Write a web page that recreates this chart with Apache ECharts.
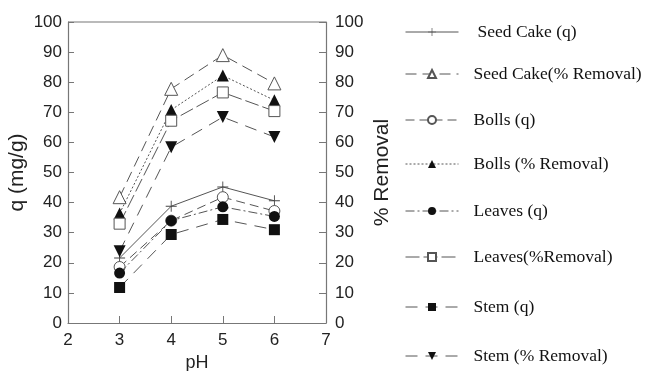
<!DOCTYPE html>
<html>
<head>
<meta charset="utf-8">
<script src="https://cdn.jsdelivr.net/npm/echarts@6/dist/echarts.min.js"></script>
<style>
  html, body { margin: 0; padding: 0; background: #fff; }
  #chart { width: 647px; height: 371px; }
</style>
</head>
<body>
<div id="chart"></div>
<script>
// pH values tested
const pH = [3, 4, 5, 6];

// Adsorption capacity q (mg/g)
const seedCakeQ = [21.6, 38.8, 45.2, 40.6];
const bollsQ    = [18.6, 34.0, 41.8, 37.2];
const leavesQ   = [16.6, 34.0, 38.6, 35.4];
const stemQ     = [11.8, 29.4, 34.4, 31.0];

// Percentage removal
const seedCakeRemoval = [41.8, 77.8, 89.0, 79.6];
const bollsRemoval    = [36.4, 70.8, 82.2, 74.0];
const leavesRemoval   = [33.0, 67.2, 76.6, 70.4];
const stemRemoval     = [23.8, 58.4, 68.4, 61.8];

// Series names as shown in the key
const names = [
  'Seed Cake (q)', 'Seed Cake(% Removal)', 'Bolls (q)', 'Bolls (% Removal)',
  'Leaves (q)', 'Leaves(%Removal)', 'Stem (q)', 'Stem (% Removal)'
];

const CROSS = 'path://M4.6,0H5.4V4.6H10V5.4H5.4V10H4.6V5.4H0V4.6H4.6Z';
const LINE = '#555';
const INK = '#111';

function pairs(ys) { return pH.map((x, i) => [x, ys[i]]); }

function makeSeries(name, ys, axis, symbol, size, dash, opts) {
  opts = opts || {};
  return {
    name: name,
    type: 'line',
    yAxisIndex: axis,
    data: pairs(ys),
    symbol: symbol,
    symbolSize: size,
    symbolRotate: opts.rotate || 0,
    z: opts.z || 2,
    itemStyle: {
      color: opts.hollow ? '#fff' : (opts.markColor || INK),
      borderColor: opts.hollow ? '#555' : (opts.markColor || INK),
      borderWidth: opts.hollow ? 1 : 0
    },
    lineStyle: { color: LINE, width: 1, type: dash },
    emphasis: { disabled: true },
    animation: false
  };
}

const series = [
  makeSeries(names[0], seedCakeQ, 0, CROSS, 11, 'solid', { markColor: '#444' }),
  makeSeries(names[1], seedCakeRemoval, 1, 'triangle', 13, [11, 6], { hollow: true }),
  makeSeries(names[2], bollsQ, 0, 'circle', 11, [9, 5], { hollow: true }),
  makeSeries(names[3], bollsRemoval, 1, 'triangle', 12, [2, 2]),
  makeSeries(names[4], leavesQ, 0, 'circle', 11, [9, 3, 2, 3], { z: 3 }),
  makeSeries(names[5], leavesRemoval, 1, 'rect', 11, [14, 4], { hollow: true }),
  makeSeries(names[6], stemQ, 0, 'rect', 11, [12, 8]),
  makeSeries(names[7], stemRemoval, 1, 'triangle', 12, [12, 8], { rotate: 180 })
];

// Key entries placed one by one down the right side
const legendTops = [18, 60, 106, 150, 197, 243, 293, 342];
const legends = names.map((n, i) => ({
  data: [n],
  left: 400,
  top: legendTops[i],
  itemWidth: 53,
  itemHeight: 10,
  selectedMode: false,
  lineStyle: { width: 1 },
  textStyle: {
    fontFamily: 'Liberation Serif',
    fontSize: 17.5,
    color: '#111',
    padding: [0, 0, 0, i === 0 ? 14 : 10]
  }
}));

const axisLine = { show: true, lineStyle: { color: '#777', width: 1.2 } };
const labelStyle = { fontFamily: 'Liberation Sans', fontSize: 17, color: '#222' };
const nameStyle = { fontFamily: 'Liberation Sans', fontSize: 21, color: '#222' };

const option = {
  backgroundColor: '#fff',
  animation: false,
  grid: { left: 68, right: 321, top: 22, bottom: 48, containLabel: false, outerBoundsMode: 'none' },
  legend: legends,
  xAxis: {
    type: 'value',
    min: 2, max: 7, interval: 1,
    name: 'pH',
    nameLocation: 'middle',
    nameGap: 24,
    nameTextStyle: { fontFamily: 'Liberation Sans', fontSize: 18, color: '#222' },
    axisLine: axisLine,
    axisTick: { show: true, inside: true, length: 7, lineStyle: { color: '#777' } },
    axisLabel: Object.assign({ margin: 9 }, labelStyle),
    splitLine: { show: false }
  },
  yAxis: [
    {
      type: 'value',
      min: 0, max: 100, interval: 10,
      name: 'q (mg/g)',
      nameLocation: 'middle',
      nameGap: 40,
      nameTextStyle: nameStyle,
      axisLine: axisLine,
      axisTick: { show: true, inside: true, length: 6, lineStyle: { color: '#777' } },
      axisLabel: Object.assign({ margin: 6 }, labelStyle),
      splitLine: { show: false }
    },
    {
      type: 'value',
      position: 'right',
      min: 0, max: 100, interval: 10,
      name: '% Removal',
      nameLocation: 'middle',
      nameGap: 46,
      nameRotate: 90,
      nameTextStyle: nameStyle,
      axisLine: axisLine,
      axisTick: { show: true, inside: true, length: 7, lineStyle: { color: '#777' } },
      axisLabel: Object.assign({ margin: 9 }, labelStyle),
      splitLine: { show: false }
    }
  ],
  series: series
};

const chart = echarts.init(document.getElementById('chart'), null, { renderer: 'canvas' });
chart.setOption(option);

// Top edge of the plot frame, drawn along the grid's upper bound
const topLeft = chart.convertToPixel({ xAxisIndex: 0, yAxisIndex: 0 }, [2, 100]);
const topRight = chart.convertToPixel({ xAxisIndex: 0, yAxisIndex: 0 }, [7, 100]);
chart.setOption({
  graphic: [{
    type: 'line',
    shape: { x1: topLeft[0], y1: topLeft[1], x2: topRight[0], y2: topRight[1] },
    style: { stroke: '#777', lineWidth: 1.2 },
    silent: true
  }]
});
</script>
</body>
</html>
